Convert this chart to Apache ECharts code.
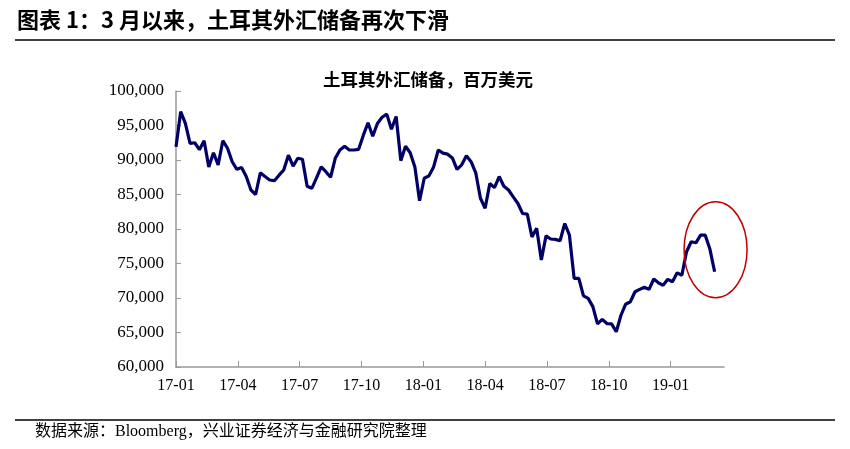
<!DOCTYPE html>
<html><head><meta charset="utf-8">
<script src="https://cdn.jsdelivr.net/npm/echarts@6/dist/echarts.min.js"></script>
<style>html,body{margin:0;padding:0;background:#fff}#c{width:850px;height:449px}</style>
</head><body><div id="c"></div>
<script>
// Weekly Turkish FX reserves, million USD, starting first week of 2017
const reserves = [
  91900, 97000, 95300, 92400, 92500, 91500, 92800, 89000, 91050, 89300,
  92800, 91700, 89750, 88650, 88900, 87600, 85650, 85000, 88150, 87600,
  87100, 87000, 87800, 88550, 90700, 89100, 90250, 90100, 86200, 85900,
  87400,
  89000, 88300, 87500, 90250, 91450, 92000, 91450, 91450, 91550, 93600,
  95400, 93450, 95300, 96200, 96650, 94450, 96300, 89900, 92000, 91050,
  89000, 84100, 87350, 87700, 89000, 91450,
  91000, 90850, 90300,
  88650, 89300, 90600, 89750, 88150, 84450, 83000, 86600, 86000, 87600,
  86200, 85650, 84650, 83700, 82250, 82150, 78850, 80100, 75500, 79000,
  78550, 78500, 78300, 80800, 79100, 72850, 72850,
  70300, 69950, 68750, 66250, 66900, 66300, 66250, 65100, 67500, 69100,
  69450, 70900, 71250, 71550, 71250, 72750, 72200, 71850, 72700, 72350,
  73650, 73300, 76700, 78150, 78000, 79100, 79100, 77050, 73800
];
const tickLabels = ['17-01','17-04','17-07','17-10','18-01','18-04','18-07','18-10','19-01'];
const weeksPerQuarter = 13.2;
const yTicks = [60000, 65000, 70000, 75000, 80000, 85000, 90000, 95000, 100000];

const chart = echarts.init(document.getElementById('c'));
const serif = '"Liberation Serif","Times New Roman",serif';
const cjk = '"Noto Sans CJK SC","Noto Sans CJK JP",sans-serif';
const tickPos = tickLabels.map((_, k) => k * weeksPerQuarter);

chart.setOption({
  animation: false,
  backgroundColor: '#fff',
  title: {
    text: '土耳其外汇储备，百万美元',
    left: 423, top: 66, textAlign: 'center',
    textStyle: {fontFamily: cjk, fontSize: 17.5, fontWeight: 'bold', color: '#000'}
  },
  grid: {left: 176, right: 126, top: 91, bottom: 82, containLabel: false},
  xAxis: {
    type: 'value', min: 0, max: 117, interval: weeksPerQuarter,
    axisLine: {show: true, lineStyle: {color: '#999', width: 1.5}},
    axisTick: {show: true, inside: true, length: 6, lineStyle: {color: '#999', width: 1},
      customValues: tickPos},
    axisLabel: {
      customValues: tickPos,
      formatter: v => { const k = Math.round(v / weeksPerQuarter); return Math.abs(k * weeksPerQuarter - v) < 0.01 ? (tickLabels[k] || '') : ''; },
      fontFamily: serif, fontSize: 16, color: '#000', margin: 11
    },
    splitLine: {show: false}
  },
  yAxis: {
    type: 'value', min: yTicks[0], max: yTicks[yTicks.length - 1], interval: 5000,
    axisLine: {show: true, lineStyle: {color: '#999', width: 1.5}},
    axisTick: {show: true, inside: true, length: 5, lineStyle: {color: '#999', width: 1}},
    axisLabel: {formatter: v => v.toLocaleString('en-US'), fontFamily: serif, fontSize: 17, color: '#000', margin: 12},
    splitLine: {show: false}
  },
  series: [{
    type: 'line',
    data: reserves.map((v, i) => [i, v]),
    showSymbol: false,
    lineStyle: {color: '#000066', width: 3.2},
    z: 3
  }]
});

const c = chart.convertToPixel({xAxisIndex: 0, yAxisIndex: 0}, [115.2, 77000]);
chart.setOption({
  graphic: [
    {type: 'text', left: 17, top: 9, style: {text: '图表 1：3 月以来，土耳其外汇储备再次下滑', font: 'bold 22px ' + cjk, fill: '#000'}},
    {type: 'line', shape: {x1: 15, y1: 40, x2: 835, y2: 40}, style: {stroke: '#000', lineWidth: 1.5}},
    {type: 'line', shape: {x1: 15, y1: 420, x2: 835, y2: 420}, style: {stroke: '#000', lineWidth: 1.5}},
    {type: 'text', left: 35, top: 424, style: {text: '数据来源：Bloomberg，兴业证券经济与金融研究院整理', font: '16px ' + serif + ',' + cjk, fill: '#000'}},
    {type: 'ellipse', shape: {cx: c[0], cy: c[1], rx: 31.5, ry: 48}, style: {fill: 'none', stroke: '#c00000', lineWidth: 1.5}, z: 10}
  ]
});
</script></body></html>
